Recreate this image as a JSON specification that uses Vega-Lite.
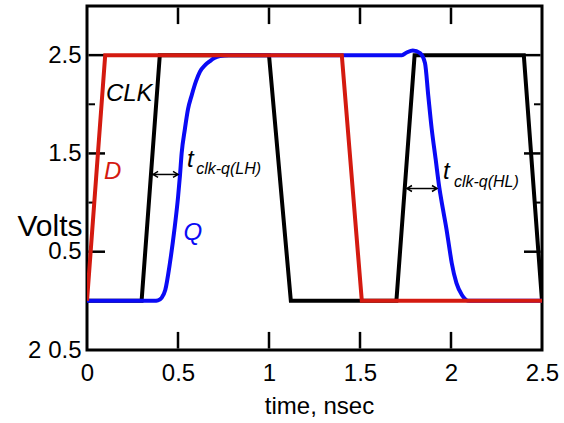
{
  "$schema": "https://vega.github.io/schema/vega-lite/v6.json",
  "width": 455,
  "height": 344,
  "autosize": {"type": "none"},
  "padding": {"left": 87, "top": 6, "right": 22, "bottom": 73},
  "config": {
    "view": {"stroke": "black", "strokeWidth": 3},
    "font": "Liberation Sans",
    "scale": {"continuousPadding": 0},
    "axis": {"domain": false, "grid": false, "ticks": false, "labelFont": "Liberation Sans", "titleFont": "Liberation Sans", "labelColor": "black", "titleColor": "black", "labelFontSize": 24, "titleFontSize": 24, "titleFontWeight": "normal", "labelOverlap": false, "labelBound": false, "labelFlush": false}
  },
  "datasets": {
    "signals": [
      {"signal": "CLK", "t": 0, "v": 0},
      {"signal": "CLK", "t": 0.3, "v": 0},
      {"signal": "CLK", "t": 0.4, "v": 2.5},
      {"signal": "CLK", "t": 1.0, "v": 2.5},
      {"signal": "CLK", "t": 1.12, "v": 0},
      {"signal": "CLK", "t": 1.7, "v": 0},
      {"signal": "CLK", "t": 1.8, "v": 2.5},
      {"signal": "CLK", "t": 2.4, "v": 2.5},
      {"signal": "CLK", "t": 2.5, "v": 0},
      {"signal": "D", "t": 0, "v": 0},
      {"signal": "D", "t": 0.1, "v": 2.5},
      {"signal": "D", "t": 1.4, "v": 2.5},
      {"signal": "D", "t": 1.51, "v": 0},
      {"signal": "D", "t": 2.5, "v": 0},
      {"signal": "Q", "t": 0, "v": 0},
      {"signal": "Q", "t": 0.37, "v": 0},
      {"signal": "Q", "t": 0.39, "v": 0.005},
      {"signal": "Q", "t": 0.41, "v": 0.03},
      {"signal": "Q", "t": 0.43, "v": 0.11},
      {"signal": "Q", "t": 0.456, "v": 0.39},
      {"signal": "Q", "t": 0.48, "v": 0.72},
      {"signal": "Q", "t": 0.5, "v": 1.05},
      {"signal": "Q", "t": 0.511, "v": 1.28},
      {"signal": "Q", "t": 0.52, "v": 1.5},
      {"signal": "Q", "t": 0.538, "v": 1.75},
      {"signal": "Q", "t": 0.555, "v": 1.95},
      {"signal": "Q", "t": 0.575, "v": 2.09},
      {"signal": "Q", "t": 0.6, "v": 2.24},
      {"signal": "Q", "t": 0.62, "v": 2.33},
      {"signal": "Q", "t": 0.65, "v": 2.4},
      {"signal": "Q", "t": 0.676, "v": 2.44},
      {"signal": "Q", "t": 0.7, "v": 2.47},
      {"signal": "Q", "t": 0.73, "v": 2.49},
      {"signal": "Q", "t": 0.78, "v": 2.5},
      {"signal": "Q", "t": 1.73, "v": 2.5},
      {"signal": "Q", "t": 1.757, "v": 2.527},
      {"signal": "Q", "t": 1.79, "v": 2.548},
      {"signal": "Q", "t": 1.83, "v": 2.52},
      {"signal": "Q", "t": 1.857, "v": 2.42},
      {"signal": "Q", "t": 1.875, "v": 2.09},
      {"signal": "Q", "t": 1.894, "v": 1.75},
      {"signal": "Q", "t": 1.915, "v": 1.45},
      {"signal": "Q", "t": 1.936, "v": 1.15},
      {"signal": "Q", "t": 1.956, "v": 0.93},
      {"signal": "Q", "t": 1.976, "v": 0.72},
      {"signal": "Q", "t": 1.99, "v": 0.55},
      {"signal": "Q", "t": 2.004, "v": 0.385},
      {"signal": "Q", "t": 2.03, "v": 0.18},
      {"signal": "Q", "t": 2.06, "v": 0.06},
      {"signal": "Q", "t": 2.1, "v": 0},
      {"signal": "Q", "t": 2.5, "v": 0}
    ],
    "timeMarks": [
      {"t": 0.5, "from": -0.485, "to": -0.316},
      {"t": 1.0, "from": -0.485, "to": -0.316},
      {"t": 1.5, "from": -0.485, "to": -0.316},
      {"t": 2.0, "from": -0.485, "to": -0.316},
      {"t": 0.5, "from": 2.816, "to": 2.985},
      {"t": 1.0, "from": 2.816, "to": 2.985},
      {"t": 1.5, "from": 2.816, "to": 2.985},
      {"t": 2.0, "from": 2.816, "to": 2.985}
    ],
    "voltMajor": [
      {"v": 0.5, "from": 0.008, "to": 0.099},
      {"v": 1.5, "from": 0.008, "to": 0.099},
      {"v": 2.5, "from": 0.008, "to": 0.099},
      {"v": 0.5, "from": 2.401, "to": 2.492},
      {"v": 1.5, "from": 2.401, "to": 2.492},
      {"v": 2.5, "from": 2.401, "to": 2.492}
    ],
    "voltMinor": [
      {"v": 1.0, "from": 0.008, "to": 0.044},
      {"v": 2.0, "from": 0.008, "to": 0.044},
      {"v": 1.0, "from": 2.456, "to": 2.492},
      {"v": 2.0, "from": 2.456, "to": 2.492}
    ],
    "labels": [
      {"text": "CLK", "series": "CLK", "x": 0.104, "y": 2.03},
      {"text": "D", "series": "D", "x": 0.093, "y": 1.235},
      {"text": "Q", "series": "Q", "x": 0.53, "y": 0.622},
      {"text": "t", "series": "timing", "x": 0.549, "y": 1.357},
      {"text": "t", "series": "timing", "x": 1.956, "y": 1.235}
    ],
    "subs": [
      {"text": "clk-q(LH)", "series": "timing", "x": 0.6, "y": 1.286},
      {"text": "clk-q(HL)", "series": "timing", "x": 2.016, "y": 1.163}
    ],
    "arrows": [
      {"x1": 0.363, "x2": 0.5, "y": 1.286},
      {"x1": 1.758, "x2": 1.923, "y": 1.143}
    ]
  },
  "layer": [
    {
      "data": {"name": "signals"},
      "transform": [{"filter": "datum.signal == 'CLK'"}],
      "mark": {"type": "line", "color": "black", "strokeWidth": 4, "strokeJoin": "miter", "clip": true},
      "encoding": {
        "x": {"field": "t", "type": "quantitative", "scale": {"domain": [0, 2.5], "nice": false, "zero": false, "padding": 0},
          "axis": {"orient": "bottom", "values": [0, 0.5, 1, 1.5, 2, 2.5], "labelExpr": "datum.value == 0 ? '0' : (datum.value == 1 ? '1' : (datum.value == 2 ? '2' : format(datum.value, '.1f')))", "labelPadding": 11, "title": "time, nsec", "titleX": 232, "titleY": 63, "titleAlign": "center", "titleBaseline": "alphabetic"}},
        "y": {"field": "v", "type": "quantitative", "scale": {"domain": [-0.5, 3], "nice": false, "zero": false, "padding": 0},
          "axis": {"orient": "left", "values": [-0.5, 0.5, 1.5, 2.5], "labelExpr": "datum.value == -0.5 ? '2 0.5' : format(datum.value, '.1f')",
            "labelPadding": 6, "title": "Volts", "titleAngle": 0, "titleFontSize": 30, "titleAlign": "right", "titleBaseline": "alphabetic", "titleX": -5, "titleY": 229}}
      }
    },
    {
      "data": {"name": "timeMarks"},
      "mark": {"type": "bar", "color": "black", "size": 2.5, "orient": "vertical"},
      "encoding": {
        "x": {"field": "t", "type": "quantitative"},
        "y": {"field": "from", "type": "quantitative"},
        "y2": {"field": "to"}
      }
    },
    {
      "data": {"name": "voltMajor"},
      "mark": {"type": "bar", "color": "black", "size": 2.5, "orient": "horizontal"},
      "encoding": {
        "y": {"field": "v", "type": "quantitative"},
        "x": {"field": "from", "type": "quantitative"},
        "x2": {"field": "to"}
      }
    },
    {
      "data": {"name": "voltMinor"},
      "mark": {"type": "bar", "color": "black", "size": 2, "orient": "horizontal"},
      "encoding": {
        "y": {"field": "v", "type": "quantitative"},
        "x": {"field": "from", "type": "quantitative"},
        "x2": {"field": "to"}
      }
    },
    {
      "data": {"name": "signals"},
      "transform": [{"filter": "datum.signal == 'Q'"}],
      "mark": {"type": "line", "color": "#0a0af5", "strokeWidth": 4, "interpolate": "monotone", "clip": true},
      "encoding": {
        "x": {"field": "t", "type": "quantitative"},
        "y": {"field": "v", "type": "quantitative"}
      }
    },
    {
      "data": {"name": "signals"},
      "transform": [{"filter": "datum.signal == 'D'"}],
      "mark": {"type": "line", "color": "#d41a10", "strokeWidth": 4, "strokeJoin": "miter", "clip": true},
      "encoding": {
        "x": {"field": "t", "type": "quantitative"},
        "y": {"field": "v", "type": "quantitative"}
      }
    },
    {
      "data": {"name": "arrows"},
      "mark": {"type": "rule", "color": "black", "strokeWidth": 1.5},
      "encoding": {
        "x": {"field": "x1", "type": "quantitative"},
        "x2": {"field": "x2"},
        "y": {"field": "y", "type": "quantitative"}
      }
    },
    {
      "data": {"name": "arrows"},
      "mark": {"type": "point", "shape": "M2.5,-1.5L0,0L2.5,1.5", "size": 16, "filled": false, "stroke": "black", "strokeWidth": 1.5, "opacity": 1},
      "encoding": {
        "x": {"field": "x1", "type": "quantitative"},
        "y": {"field": "y", "type": "quantitative"}
      }
    },
    {
      "data": {"name": "arrows"},
      "mark": {"type": "point", "shape": "M-2.5,-1.5L0,0L-2.5,1.5", "size": 16, "filled": false, "stroke": "black", "strokeWidth": 1.5, "opacity": 1},
      "encoding": {
        "x": {"field": "x2", "type": "quantitative"},
        "y": {"field": "y", "type": "quantitative"}
      }
    },
    {
      "data": {"name": "labels"},
      "mark": {"type": "text", "fontSize": 24, "fontStyle": "italic", "font": "Liberation Sans", "align": "left", "baseline": "alphabetic"},
      "encoding": {
        "x": {"field": "x", "type": "quantitative"},
        "y": {"field": "y", "type": "quantitative"},
        "text": {"field": "text"},
        "color": {"field": "series", "type": "nominal", "scale": {"domain": ["CLK", "Q", "D", "timing"], "range": ["black", "#0a0af5", "#d41a10", "black"]}, "legend": null}
      }
    },
    {
      "data": {"name": "subs"},
      "mark": {"type": "text", "fontSize": 16, "fontStyle": "italic", "font": "Liberation Sans", "align": "left", "baseline": "alphabetic"},
      "encoding": {
        "x": {"field": "x", "type": "quantitative"},
        "y": {"field": "y", "type": "quantitative"},
        "text": {"field": "text"},
        "color": {"field": "series", "type": "nominal", "legend": null}
      }
    }
  ]
}
